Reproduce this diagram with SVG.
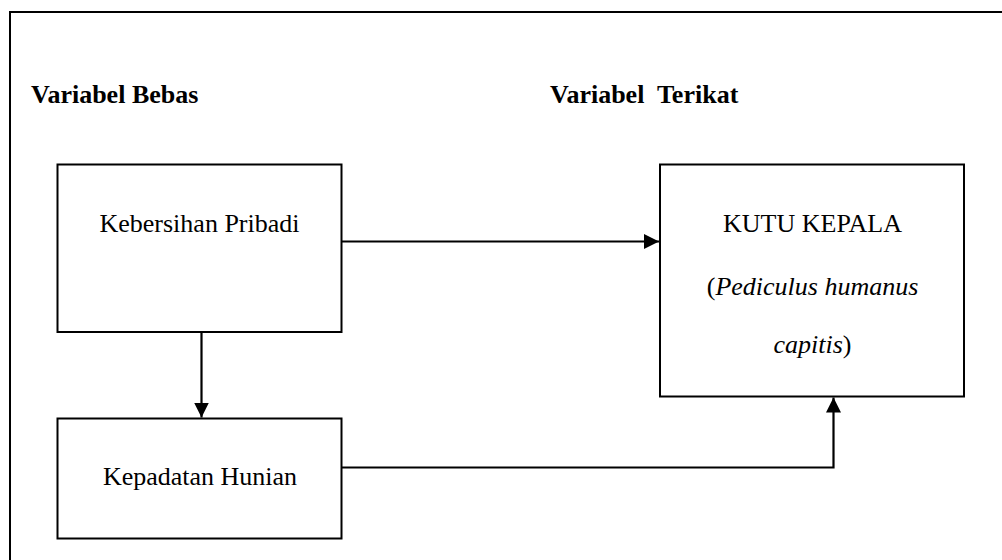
<svg xmlns="http://www.w3.org/2000/svg" width="1002" height="560" viewBox="0 0 1002 560">
<style>
.box{fill:#fff;stroke:#000;stroke-width:2}
.t{font-family:"Liberation Serif","Times New Roman",serif;font-size:26px;fill:#000}
.b{font-weight:bold}
.c{fill:none;stroke:#000;stroke-width:2.2}
</style>
<defs>
<marker id="ah" viewBox="0 0 10 10" refX="10" refY="5" markerWidth="15" markerHeight="15" markerUnits="userSpaceOnUse" orient="auto">
<path d="M0,0 L10,5 L0,10 z" fill="#000"/>
</marker>
</defs>
<rect width="1002" height="560" fill="#fff"/>
<path d="M10,570 V12 H1010" fill="none" stroke="#000" stroke-width="2"/>
<text class="t b" x="31" y="103">Variabel Bebas</text>
<text class="t b" x="550" y="103" xml:space="preserve">Variabel  Terikat</text>
<g id="node-kebersihan">
<rect class="box" x="57.5" y="164.5" width="284" height="167.5"/>
<text class="t" x="199.5" y="231.5" text-anchor="middle">Kebersihan Pribadi</text>
</g>
<g id="node-kepadatan">
<rect class="box" x="57.5" y="418.5" width="284" height="120"/>
<text class="t" x="200" y="485" text-anchor="middle">Kepadatan Hunian</text>
</g>
<g id="node-kutu">
<rect class="box" x="660" y="164.5" width="304" height="232"/>
<text class="t" x="812.5" y="231.5" text-anchor="middle">KUTU KEPALA</text>
<text class="t" x="812.5" y="295" text-anchor="middle">(<tspan font-style="italic">Pediculus humanus</tspan></text>
<text class="t" x="812.5" y="353" text-anchor="middle"><tspan font-style="italic">capitis</tspan>)</text>
</g>
<g id="connectors">
<path class="c" d="M342,241.5 H659" marker-end="url(#ah)"/>
<path class="c" d="M201.5,332 V417.5" marker-end="url(#ah)"/>
<path class="c" d="M342,467.5 H833.5 V397.5" marker-end="url(#ah)"/>
</g>
</svg>
